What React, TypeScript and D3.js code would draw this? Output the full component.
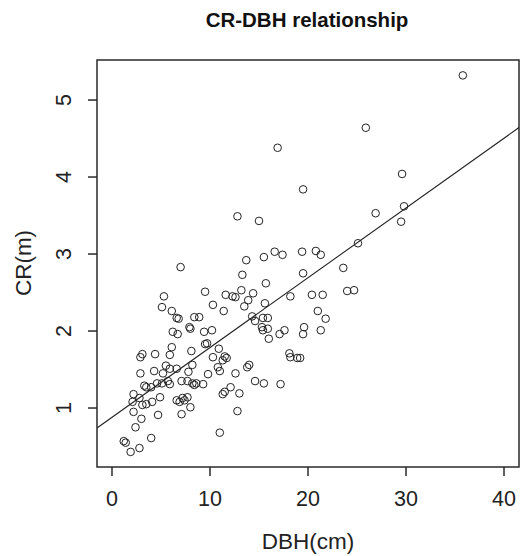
import React from "react";
import * as d3 from "d3";

const dbh = [
  35.8, 16.9, 25.9, 19.5, 12.8, 15.0, 29.6, 26.9, 29.8, 29.5, 25.1, 19.4, 20.8, 21.3, 16.6, 17.4,
  13.7, 15.5, 19.5, 23.6, 20.4, 21.5, 24.0, 24.7, 21.0, 21.8, 19.6, 19.5, 21.3, 19.2, 7.0, 13.3,
  15.7, 9.5, 5.3, 5.1, 11.6, 12.3, 12.6, 13.2, 14.4, 10.3, 11.4, 13.5, 13.9, 15.6, 18.2, 6.1,
  6.6, 6.8, 8.4, 8.9, 7.9, 8.0, 6.2, 6.7, 9.4, 10.2, 14.3, 14.6, 15.4, 15.9, 15.3, 15.4,
  15.9, 16.0, 17.1, 17.6, 6.1, 8.1, 9.5, 9.7, 10.9, 11.5, 11.7, 11.3, 10.3, 2.9, 3.1, 4.4,
  5.9, 2.9, 4.3, 5.5, 5.2, 5.9, 6.6, 7.8, 8.2, 9.8, 10.8, 11.0, 12.6, 13.8, 14.0, 18.1,
  18.2, 18.9, 3.3, 3.5, 4.0, 4.6, 5.1, 5.9, 7.1, 7.7, 8.2, 8.4, 8.6, 9.3, 11.3, 11.5,
  12.1, 13.0, 14.6, 15.5, 17.2, 2.2, 2.1, 2.8, 3.1, 3.5, 4.1, 4.9, 6.6, 6.9, 7.2, 7.7,
  7.4, 8.0, 2.2, 4.7, 7.1, 3.0, 2.4, 12.8, 11.0, 4.0, 1.2, 1.4, 2.8, 1.9, 5.7,
];
const cr = [
  5.32, 4.38, 4.64, 3.84, 3.49, 3.43, 4.04, 3.53, 3.62, 3.42, 3.14, 3.03, 3.04, 2.99, 3.03, 2.99,
  2.92, 2.96, 2.75, 2.82, 2.47, 2.47, 2.52, 2.53, 2.26, 2.16, 2.05, 1.96, 2.01, 1.65, 2.83, 2.73,
  2.62, 2.51, 2.45, 2.31, 2.47, 2.45, 2.44, 2.53, 2.49, 2.34, 2.26, 2.32, 2.40, 2.36, 2.45, 2.26,
  2.17, 2.16, 2.18, 2.18, 2.05, 2.03, 1.99, 1.96, 1.99, 2.01, 2.19, 2.13, 2.17, 2.17, 2.05, 2.01,
  2.03, 1.90, 1.96, 2.01, 1.79, 1.74, 1.83, 1.84, 1.77, 1.67, 1.65, 1.62, 1.66, 1.66, 1.70, 1.70,
  1.69, 1.45, 1.48, 1.55, 1.45, 1.51, 1.51, 1.47, 1.56, 1.44, 1.53, 1.48, 1.45, 1.53, 1.56, 1.71,
  1.66, 1.65, 1.29, 1.27, 1.27, 1.32, 1.32, 1.31, 1.35, 1.35, 1.32, 1.30, 1.32, 1.31, 1.18, 1.21,
  1.27, 1.19, 1.35, 1.32, 1.31, 1.18, 1.08, 1.13, 1.04, 1.05, 1.08, 1.14, 1.10, 1.08, 1.13, 1.14,
  1.10, 1.01, 0.95, 0.91, 0.92, 0.86, 0.75, 0.96, 0.68, 0.61, 0.57, 0.55, 0.48, 0.43, 1.35,
];
const xTicks = [0, 10, 20, 30, 40];
const yTicks = [1, 2, 3, 4, 5];
// fitted line CR = a + b * DBH
const fitIntercept = 0.88;
const fitSlope = 0.0906;

const W = 520;
const H = 556;
const left = 97;
const right = 519;
const top = 60;
const bottom = 467;
const font = "'Liberation Sans', Arial, sans-serif";
const ink = "#2a2a2a";

export default function App() {
  const x = d3.scaleLinear().domain([-1.53, 41.53]).range([left, right]);
  const y = d3.scaleLinear().domain([0.234, 5.52]).range([bottom, top]);
  const [x0, x1] = x.domain();
  const fitLine = d3.line<number>()
    .x((d) => x(d))
    .y((d) => y(fitIntercept + fitSlope * d))([x0, x1]);

  return (
    <svg width={W} height={H} style={{ position: "absolute", left: 0, top: 0, background: "#fff" }}>
      <text x={307} y={27} textAnchor="middle" fontFamily={font} fontWeight="bold" fontSize={20.5} fill="#111">
        CR-DBH relationship
      </text>
      <defs>
        <clipPath id="plot">
          <rect x={left} y={top} width={right - left} height={bottom - top} />
        </clipPath>
      </defs>
      <rect x={left} y={top} width={right - left} height={bottom - top} fill="none" stroke={ink} strokeWidth={1.5} />
      {xTicks.map((t) => (
        <g key={"x" + t}>
          <line x1={x(t)} x2={x(t)} y1={bottom} y2={bottom + 9} stroke={ink} strokeWidth={1.5} />
          <text x={x(t)} y={506} textAnchor="middle" fontFamily={font} fontSize={21.5} fill="#222">
            {t}
          </text>
        </g>
      ))}
      {yTicks.map((t) => (
        <g key={"y" + t}>
          <line x1={left - 9} x2={left} y1={y(t)} y2={y(t)} stroke={ink} strokeWidth={1.5} />
          <text
            transform={`translate(71,${y(t)}) rotate(-90)`}
            textAnchor="middle"
            fontFamily={font}
            fontSize={21.5}
            fill="#222"
          >
            {t}
          </text>
        </g>
      ))}
      <text x={308} y={549} textAnchor="middle" fontFamily={font} fontSize={22.5} fill="#222">
        DBH(cm)
      </text>
      <text transform="translate(31,263) rotate(-90)" textAnchor="middle" fontFamily={font} fontSize={22.5} fill="#222">
        CR(m)
      </text>
      <g clipPath="url(#plot)">
        <path d={fitLine ?? ""} fill="none" stroke="#222" strokeWidth={1.1} />
        {dbh.map((d, i) => (
          <circle key={i} cx={x(d)} cy={y(cr[i])} r={3.8} fill="none" stroke="#222" strokeWidth={1} />
        ))}
      </g>
    </svg>
  );
}
